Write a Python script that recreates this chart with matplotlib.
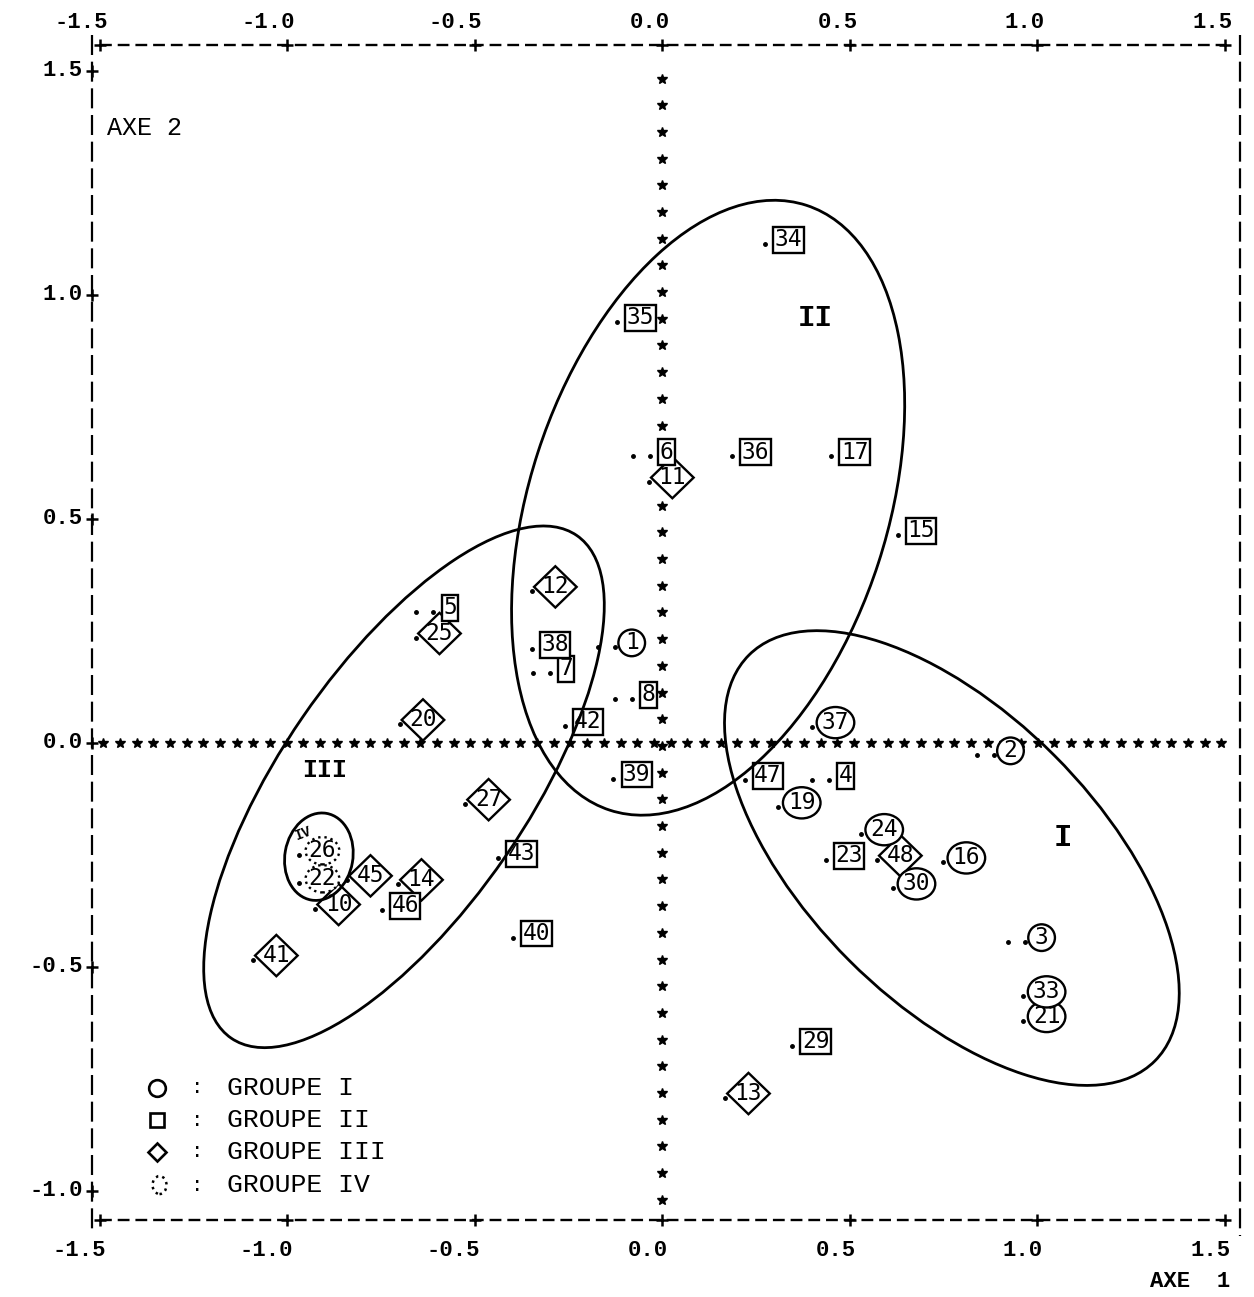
import numpy as np
import matplotlib
matplotlib.use('Agg')
import matplotlib.pyplot as plt
from matplotlib.patches import Ellipse
from matplotlib.path import Path
from matplotlib.transforms import ScaledTranslation

# points of the factorial map (axe 1, axe 2), one list per group
g1_lab = ['1', '2', '3', '16', '19', '21', '24', '30', '33', '37']
g1_x = [-0.125, 0.885, 0.968, 0.749, 0.31, 0.963, 0.53, 0.616, 0.963, 0.40]
g1_y = [0.214, -0.027, -0.444, -0.266, -0.143, -0.62, -0.203, -0.324, -0.565, 0.036]

g2_lab = ['4', '5', '6', '7', '8', '15', '17', '23', '29', '34', '35', '36',
          '38', '39', '40', '42', '43', '46', '47']
g2_x = [0.445, -0.61, -0.032, -0.30, -0.08, 0.629, 0.451, 0.437, 0.347, 0.275,
        -0.12, 0.187, -0.347, -0.13, -0.397, -0.26, -0.437, -0.747, 0.22]
g2_y = [-0.083, 0.292, 0.64, 0.156, 0.098, 0.464, 0.64, -0.261, -0.676, 1.114,
        0.94, 0.64, 0.21, -0.08, -0.435, 0.038, -0.257, -0.373, -0.083]

g3_lab = ['10', '11', '12', '13', '14', '20', '25', '27', '41', '45', '48']
g3_x = [-0.925, -0.035, -0.347, 0.168, -0.704, -0.70, -0.656, -0.525, -1.091, -0.84, 0.573]
g3_y = [-0.37, 0.583, 0.339, -0.792, -0.315, 0.042, 0.235, -0.136, -0.484, -0.306, -0.261]

g4_lab = ['22', '26']
g4_x = [-0.968, -0.968]
g4_y = [-0.3125, -0.25]

# hand drawn group envelopes: centre (data), semi axes (px), angle (deg)
env_name = ['I', 'II', 'III', 'IV']
env_cx = [0.773, 0.123, -0.688, -0.915]
env_cy = [-0.257, 0.525, -0.098, -0.254]
env_a = [287, 318, 305, 44]
env_b = [145, 179, 123, 34]
env_ang = [-45, 72, 55.5, 80]

ticks = [-1.5, -1.0, -0.5, 0.0, 0.5, 1.0, 1.5]
yticks = [1.5, 1.0, 0.5, 0.0, -0.5, -1.0]
legend_txt = ['GROUPE I', 'GROUPE II', 'GROUPE III', 'GROUPE IV']

MONO = 'Liberation Mono'


def diamond(x0, y0, width, height, mutation_size):
	cx = x0 + width / 2.0
	cy = y0 + height / 2.0
	hw = width / 2.0 + 0.33 * mutation_size
	hh = height / 2.0 + 0.40 * mutation_size
	return Path([(cx - hw, cy), (cx, cy + hh), (cx + hw, cy), (cx, cy - hh), (cx - hw, cy)], closed=True)


fig = plt.figure(figsize=(12.54, 12.97), dpi=100)
ax = fig.add_axes([92 / 1254, 77 / 1297, 1147.5 / 1254, 1175 / 1297])
ax.set_xlim(-1.52, 1.54)
ax.set_ylim(-1.065, 1.558)
ax.axis('off')

ytop, ybot = 1.558, -1.065
xleft, xright = -1.52, 1.54

# frame (printer style dashes)
hdash = (0, (5, 2.5))
vdash = (0, (9, 3))
ax.plot([-1.5, 1.5], [ytop, ytop], color='k', lw=1.7, ls=hdash, clip_on=False)
ax.plot([-1.5, 1.5], [ybot, ybot], color='k', lw=1.7, ls=hdash, clip_on=False)
ax.plot([xleft, xleft], [1.58, -1.09], color='k', lw=1.6, ls=vdash, clip_on=False)
ax.plot([xright, xright], [1.58, -1.10], color='k', lw=1.6, ls=vdash, clip_on=False)
ax.plot(ticks, [ytop] * len(ticks), 'k+', ms=8, mew=1.8, clip_on=False)
ax.plot(ticks, [ybot] * len(ticks), 'k+', ms=8, mew=1.8, clip_on=False)
ax.plot([xleft] * len(yticks), yticks, 'k+', ms=8, mew=1.8, clip_on=False)

for v in ticks:
	ax.text(v + 8 / 375., 1.609, '%.1f' % v, ha='right', va='center',
		family=MONO, weight='bold', fontsize=16, clip_on=False)
	ax.text(v + 6 / 375., -1.132, '%.1f' % v, ha='right', va='center',
		family=MONO, weight='bold', fontsize=16, clip_on=False)
for v in yticks:
	ax.text(-1.544, v, '%.1f' % v, ha='right', va='center',
		family=MONO, weight='bold', fontsize=16, clip_on=False)

ax.text(1.515, -1.203, 'AXE  1', ha='right', va='center', family=MONO,
	weight='bold', fontsize=16, clip_on=False)
ax.text(-1.48, 1.373, 'AXE 2', ha='left', va='center', family=MONO, fontsize=18)

# star axes through the origin
sy = np.arange(-1.02, 1.49, 0.0596)
ax.plot(np.zeros(len(sy)), sy, ls='none', marker='*', ms=7, color='k', zorder=1)
sx = np.arange(-1.49, 1.51, 0.0445)
ax.plot(sx, np.zeros(len(sx)), ls='none', marker='*', ms=7, color='k', zorder=1)

# labelled points (diamonds first so the boxes sit on top of them)
groups = [
	(g3_lab, g3_x, g3_y, 'diamond', 'solid', 2.0),
	(g2_lab, g2_x, g2_y, 'square', 'solid', 2.1),
	(g1_lab, g1_x, g1_y, 'circle', 'solid', 2.2),
	(g4_lab, g4_x, g4_y, 'ellipse', 'dotted', 2.3),
]
left_dot = ax.transData + ScaledTranslation(-0.17, 0, fig.dpi_scale_trans)
for labs, xs, ys, shape, lstyle, zo in groups:
	for lab, x, y in zip(labs, xs, ys):
		ax.plot(x, y, 'k.', ms=5, zorder=4)
		if len(lab) == 1:
			ax.plot(x, y, 'k.', ms=5, zorder=4, transform=left_dot)
		if shape == 'circle':
			style = 'circle,pad=0.08' if len(lab) == 1 else 'ellipse,pad=-0.02'
		elif shape == 'square':
			style = 'square,pad=0.06'
		elif shape == 'diamond':
			style = diamond
		else:
			style = 'ellipse,pad=-0.08'
		ax.annotate(lab, (x, y), xytext=(7, 3), textcoords='offset points',
			ha='left', va='center', family='DejaVu Sans Mono', fontsize=16.5, zorder=zo,
			bbox=dict(boxstyle=style, fc='white', ec='black', lw=1.7, ls=lstyle))

# group envelopes
for name, cx, cy, a, b, ang in zip(env_name, env_cx, env_cy, env_a, env_b, env_ang):
	tr = fig.dpi_scale_trans + ScaledTranslation(cx, cy, ax.transData)
	e = Ellipse((0, 0), 2 * a / 100., 2 * b / 100., angle=ang, transform=tr,
		fill=False, ec='black', lw=2.0, zorder=3)
	ax.add_patch(e)

# group numerals
ax.text(1.069, -0.212, 'I', ha='center', va='center', family=MONO, weight='bold', fontsize=22)
ax.text(0.408, 0.949, 'II', ha='center', va='center', family=MONO, weight='bold', fontsize=21)
ax.text(-0.899, -0.060, 'III', ha='center', va='center', family=MONO, weight='bold', fontsize=18)
ax.text(-0.955, -0.203, 'IV', ha='center', va='center', family=MONO, weight='bold',
	fontsize=10, rotation=20, zorder=5)

# legend drawn by hand in the lower left corner
leg_y = [-0.770, -0.842, -0.913, -0.987]
leg_mk = ['o', 's', 'D', None]
for txt, yy, mk in zip(legend_txt, leg_y, leg_mk):
	if mk is not None:
		ax.plot(-1.347, yy, marker=mk, ms=12 if mk == 'o' else 9.5, mfc='none', mec='k', mew=1.9)
	else:
		tr = fig.dpi_scale_trans + ScaledTranslation(-1.34, yy, ax.transData)
		ax.add_patch(Ellipse((0, 0), 0.14, 0.18, transform=tr, fill=False,
			ec='black', lw=1.8, ls=':'))
	ax.text(-1.24, yy, ':', ha='center', va='center', family=MONO, fontsize=15)
	ax.text(-1.16, yy, txt, ha='left', va='center', family=MONO, fontsize=19)

fig.savefig('out.png', dpi=100)
